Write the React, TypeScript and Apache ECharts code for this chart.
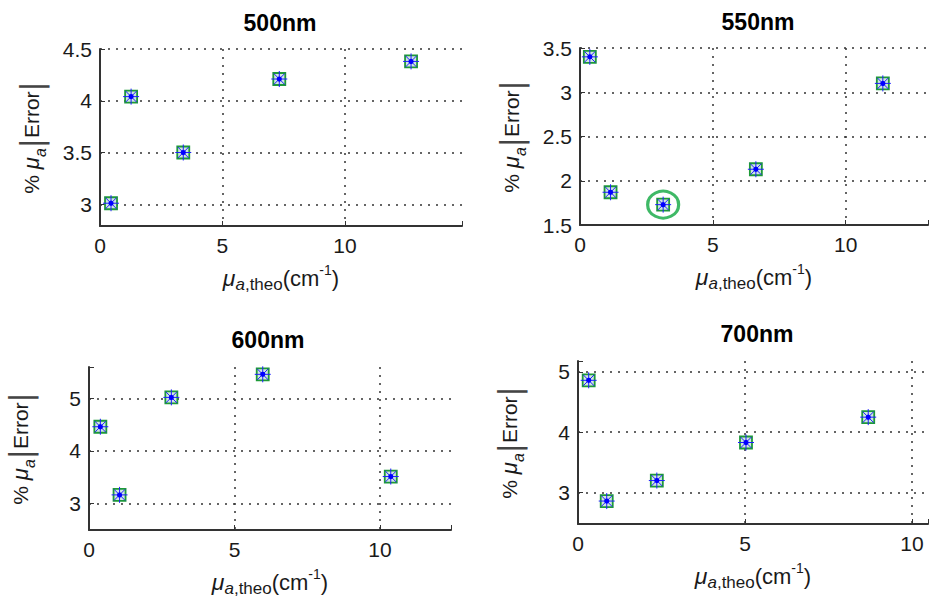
import React, { useEffect, useRef } from "react";
import * as echarts from "echarts";

// ---- data ----
const titles = ["500nm", "550nm", "600nm", "700nm"];
const x500 = [0.45, 1.27, 3.4, 7.32, 12.7];
const y500 = [3.01, 4.04, 3.5, 4.21, 4.38];
const x550 = [0.37, 1.15, 3.13, 6.62, 11.4];
const y550 = [3.4, 1.87, 1.73, 2.13, 3.1];
const x600 = [0.39, 1.05, 2.83, 5.97, 10.37];
const y600 = [4.46, 3.16, 5.02, 5.46, 3.51];
const x700 = [0.32, 0.86, 2.36, 5.03, 8.69];
const y700 = [4.86, 2.86, 3.2, 3.83, 4.25];
const highlighted550 = 2; // circled point in the 550nm panel

const xMins = [0, 0, 0, 0];
const xMaxs = [14.78, 13.1, 12.44, 10.48];
const xSteps = [5, 5, 5, 5];
const yMins = [2.79, 1.5, 2.49, 2.48];
const yMaxs = [4.5, 3.5, 5.6, 5.18];
const ySteps = [0.5, 0.5, 1, 1];

// ---- layout ----
const grids = [
  { left: 100, top: 49, width: 362, height: 177 },
  { left: 580, top: 48, width: 351, height: 177 },
  { left: 89, top: 367, width: 362, height: 163 },
  { left: 578, top: 361, width: 353, height: 163 },
];
const titlePos = [
  [280, 23],
  [758, 22],
  [268, 340],
  [757, 334],
];

const FONT = "'Liberation Sans', Arial, Helvetica, sans-serif";
const TXT = "#1a1a1a";
const AX = "#333333";

const isMultiple = (v: number, step: number) => {
  const k = v / step;
  return Math.abs(k - Math.round(k)) < 1e-6;
};
const fmt = (step: number) => (v: number) =>
  isMultiple(v, step) ? String(Number(v.toFixed(2))) : "";

const yNameRich = {
  t: { fontSize: 21, fontFamily: FONT, color: TXT, lineHeight: 34, verticalAlign: "middle" },
  mu: { fontSize: 22, fontFamily: FONT, fontStyle: "italic", color: TXT, lineHeight: 34, verticalAlign: "middle" },
  sub: { fontSize: 16, fontFamily: FONT, fontStyle: "italic", color: TXT, lineHeight: 16, verticalAlign: "bottom" },
  bar: { fontSize: 30, fontFamily: "'DejaVu Sans', sans-serif", color: "#444", lineHeight: 34, verticalAlign: "middle" },
};
const xNameRich = {
  t: { fontSize: 22, fontFamily: FONT, color: TXT, lineHeight: 30, verticalAlign: "middle" },
  mu: { fontSize: 23, fontFamily: FONT, fontStyle: "italic", color: TXT, lineHeight: 30, verticalAlign: "middle" },
  sub: { fontSize: 17, fontFamily: FONT, fontStyle: "italic", color: TXT, lineHeight: 14, verticalAlign: "bottom" },
  sub2: { fontSize: 17, fontFamily: FONT, color: TXT, lineHeight: 14, verticalAlign: "bottom" },
  sup: { fontSize: 14, fontFamily: FONT, color: TXT, lineHeight: 14, verticalAlign: "top" },
};
const yNameText = "{t|% }{mu|μ}{sub|a}{bar||}{t|Error}{bar||}";
const xNameText = "{mu|μ}{sub|a}{sub2|,theo}{t|(cm}{sup|-1}{t|)}";

const renderMarker = (params: any, api: any) => {
  const p = api.coord([api.value(0), api.value(1)]);
  const cx = p[0];
  const cy = p[1];
  const h = 6;
  const a = 8;
  const d = 5.6;
  const blue = { stroke: "#1f1fff", lineWidth: 1 };
  return {
    type: "group",
    children: [
      { type: "rect", shape: { x: cx - h, y: cy - h, width: 2 * h, height: 2 * h }, style: { fill: "#cfe6e0", stroke: "#1e9a38", lineWidth: 1.8 } },
      { type: "line", shape: { x1: cx - a, y1: cy, x2: cx + a, y2: cy }, style: blue },
      { type: "line", shape: { x1: cx, y1: cy - a, x2: cx, y2: cy + a }, style: blue },
      { type: "line", shape: { x1: cx - d, y1: cy - d, x2: cx + d, y2: cy + d }, style: blue },
      { type: "line", shape: { x1: cx - d, y1: cy + d, x2: cx + d, y2: cy - d }, style: blue },
      { type: "circle", shape: { cx, cy, r: 2.6 }, style: { fill: "#0000ff" } },
    ],
  };
};

export default function App() {
  const ref = useRef<HTMLDivElement>(null);
  useEffect(() => {
    document.body.style.margin = "0";
    if (!ref.current) return;
    const chart = echarts.init(ref.current, undefined, { renderer: "svg" });
    const xs = [x500, x550, x600, x700];
    const ys = [y500, y550, y600, y700];

    const xAxis = grids.map((_, i) => ({
      gridIndex: i,
      type: "value",
      min: xMins[i],
      max: xMaxs[i],
      minInterval: xSteps[i],
      maxInterval: xSteps[i],
      axisLine: { show: true, onZero: false, lineStyle: { color: AX, width: 2 } },
      axisTick: { show: true, inside: true, length: 5, lineStyle: { color: AX, width: 1 } },
      axisLabel: { fontSize: 21, fontFamily: FONT, color: TXT, margin: 9, formatter: fmt(xSteps[i]) },
      splitLine: {
        show: true,
        showMinLine: false,
        showMaxLine: isMultiple(xMaxs[i], xSteps[i]),
        lineStyle: { color: "#333", type: [2, 6], width: 1.5 },
      },
      name: xNameText,
      nameLocation: "middle",
      nameGap: 37,
      nameTextStyle: { rich: xNameRich },
    }));

    const yAxis = grids.map((_, i) => ({
      gridIndex: i,
      type: "value",
      min: yMins[i],
      max: yMaxs[i],
      minInterval: ySteps[i],
      maxInterval: ySteps[i],
      axisLine: { show: true, onZero: false, lineStyle: { color: AX, width: 2 } },
      axisTick: { show: true, inside: true, length: 5, lineStyle: { color: AX, width: 1 } },
      axisLabel: { fontSize: 21, fontFamily: FONT, color: TXT, margin: 8, formatter: fmt(ySteps[i]) },
      splitLine: {
        show: true,
        showMinLine: false,
        showMaxLine: isMultiple(yMaxs[i], ySteps[i]),
        lineStyle: { color: "#333", type: [2, 6], width: 1.5 },
      },
      name: yNameText,
      nameLocation: "middle",
      nameRotate: 90,
      nameGap: 52,
      nameTextStyle: { rich: yNameRich },
    }));

    const series: any[] = grids.map((_, i) => ({
      type: "custom",
      xAxisIndex: i,
      yAxisIndex: i,
      renderItem: renderMarker,
      encode: { x: 0, y: 1 },
      data: xs[i].map((x, j) => [x, ys[i][j]]),
      clip: false,
    }));
    series.push({
      type: "scatter",
      xAxisIndex: 1,
      yAxisIndex: 1,
      symbol: "circle",
      symbolSize: [31, 27],
      itemStyle: { color: "rgba(0,0,0,0)", borderColor: "#0fa840", borderWidth: 3 },
      data: [[x550[highlighted550], y550[highlighted550]]],
      z: 5,
    });

    chart.setOption({
      animation: false,
      backgroundColor: "#ffffff",
      grid: grids.map((g) => ({ ...g, containLabel: false })),
      xAxis,
      yAxis,
      series,
      graphic: titles.map((t, i) => ({
        type: "text",
        x: titlePos[i][0],
        y: titlePos[i][1],
        style: {
          text: t,
          fontSize: 23,
          fontWeight: "bold",
          fontFamily: FONT,
          fill: "#000",
          align: "center",
          verticalAlign: "middle",
        },
      })),
    });
    return () => chart.dispose();
  }, []);
  return <div ref={ref} style={{ width: 931, height: 601 }} />;
}
